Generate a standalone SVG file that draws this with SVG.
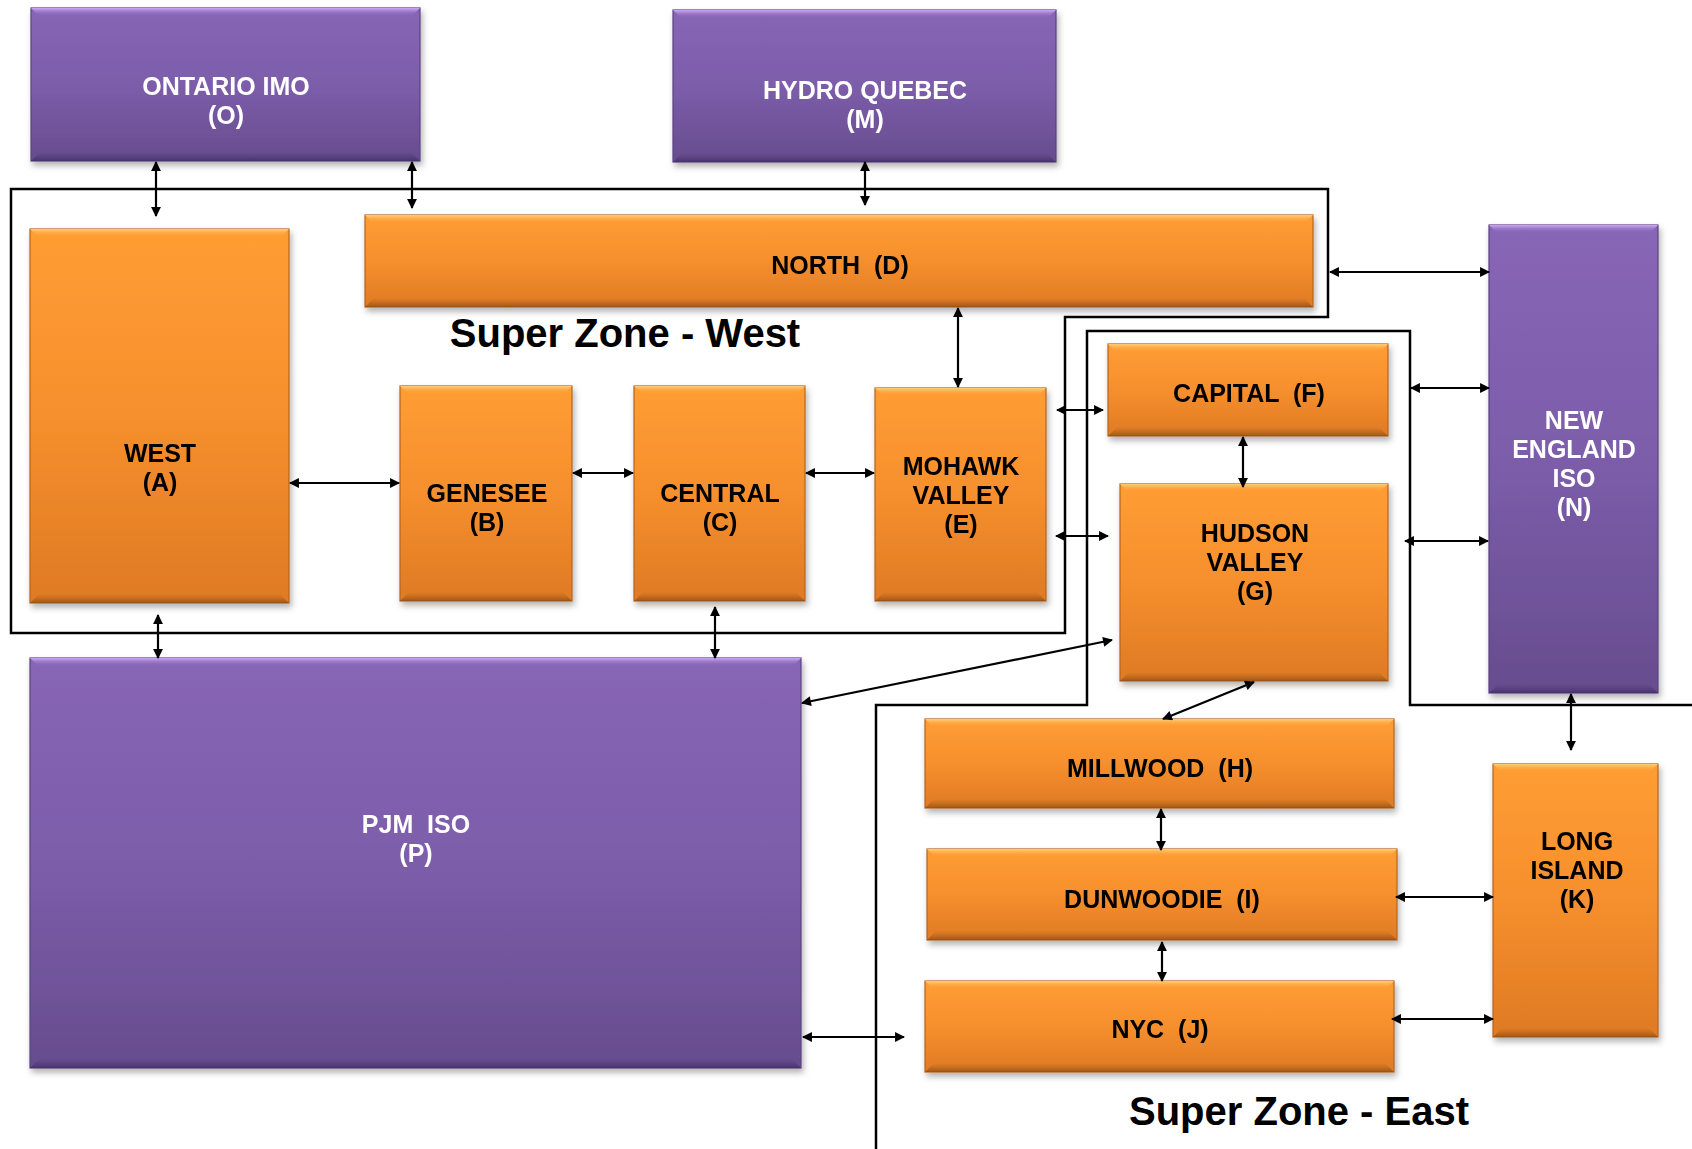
<svg xmlns="http://www.w3.org/2000/svg" width="1692" height="1149" viewBox="0 0 1692 1149">
<style>
.lbl{font-family:"Liberation Sans",Arial,Helvetica,sans-serif;font-weight:bold;font-size:25px;text-anchor:middle}
.or .lbl{fill:#000}
.pu .lbl{fill:#fff}
.or .body{fill:url(#gOr);stroke:#b5641f;stroke-width:1.2}
.pu .body{fill:url(#gPu);stroke:#5a4280;stroke-width:1.2}
.or .hi{fill:url(#hiO)}
.pu .hi{fill:url(#hiP)}
.or .lo{fill:url(#loO)}
.pu .lo{fill:url(#loP)}
.zone{fill:none;stroke:#000;stroke-width:2.5}
.title{font-family:"Liberation Sans",Arial,Helvetica,sans-serif;font-weight:bold;font-size:40px;text-anchor:middle;fill:#000}
.conn line{stroke:#000;stroke-width:2.2;marker-start:url(#ah);marker-end:url(#ah)}
</style>
<defs>
<linearGradient id="gOr" x1="0" y1="0" x2="0" y2="1">
<stop offset="0" stop-color="#ff9d33"/>
<stop offset="0.5" stop-color="#f68f2d"/>
<stop offset="1" stop-color="#df7a24"/>
</linearGradient>
<linearGradient id="gPu" x1="0" y1="0" x2="0" y2="1">
<stop offset="0" stop-color="#8866b6"/>
<stop offset="0.5" stop-color="#7c5daa"/>
<stop offset="1" stop-color="#674c8e"/>
</linearGradient>
<linearGradient id="hiO" x1="0" y1="0" x2="0" y2="1">
<stop offset="0" stop-color="#ffcf7a" stop-opacity="1"/>
<stop offset="1" stop-color="#ff9d33" stop-opacity="0"/>
</linearGradient>
<linearGradient id="hiP" x1="0" y1="0" x2="0" y2="1">
<stop offset="0" stop-color="#cfaaf8" stop-opacity="1"/>
<stop offset="1" stop-color="#8866b6" stop-opacity="0"/>
</linearGradient>
<linearGradient id="loO" x1="0" y1="0" x2="0" y2="1">
<stop offset="0" stop-color="#a85a1a" stop-opacity="0"/>
<stop offset="1" stop-color="#8a4a16" stop-opacity="0.75"/>
</linearGradient>
<linearGradient id="loP" x1="0" y1="0" x2="0" y2="1">
<stop offset="0" stop-color="#4a3470" stop-opacity="0"/>
<stop offset="1" stop-color="#3e2c60" stop-opacity="0.75"/>
</linearGradient>
<filter id="sh" x="-10%" y="-10%" width="120%" height="130%">
<feDropShadow dx="2" dy="4" stdDeviation="3" flood-color="#000" flood-opacity="0.3"/>
</filter>
<marker id="ah" viewBox="0 0 10 10" refX="9" refY="5" markerWidth="5" markerHeight="4.5" orient="auto-start-reverse" markerUnits="strokeWidth">
<path d="M0,0 L10,5 L0,10 z" fill="#000"/>
</marker>
</defs>
<rect width="1692" height="1149" fill="#fff"/>

<g id="zones">
<path class="zone" d="M11,189 H1328 V317 H1065 V633 H11 Z"/>
<path class="zone" d="M1692,705 H1410 V331 H1087 V705 H876 V1149"/>
<text class="title" x="625" y="347">Super Zone - West</text>
<text class="title" x="1299" y="1125">Super Zone - East</text>
</g>

<g id="node-O" class="pu" filter="url(#sh)">
<rect class="body" x="31" y="8" width="389" height="153"/>
<polygon class="hi" points="31,8 420,8 412,16 39,16"/>
<polygon class="lo" points="40,152 411,152 420,161 31,161"/>
<text class="lbl" x="226" y="95">ONTARIO IMO</text>
<text class="lbl" x="226" y="124">(O)</text>
</g>
<g id="node-M" class="pu" filter="url(#sh)">
<rect class="body" x="673" y="10" width="383" height="152"/>
<polygon class="hi" points="673,10 1056,10 1048,18 681,18"/>
<polygon class="lo" points="682,153 1047,153 1056,162 673,162"/>
<text class="lbl" x="865" y="99">HYDRO QUEBEC</text>
<text class="lbl" x="865" y="128">(M)</text>
</g>
<g id="node-D" class="or" filter="url(#sh)">
<rect class="body" x="365" y="215" width="948" height="92"/>
<polygon class="hi" points="365,215 1313,215 1305,223 373,223"/>
<polygon class="lo" points="374,298 1304,298 1313,307 365,307"/>
<text class="lbl" x="840" y="274" xml:space="preserve">NORTH  (D)</text>
</g>
<g id="node-A" class="or" filter="url(#sh)">
<rect class="body" x="30" y="229" width="259" height="374"/>
<polygon class="hi" points="30,229 289,229 281,237 38,237"/>
<polygon class="lo" points="39,594 280,594 289,603 30,603"/>
<text class="lbl" x="160" y="462">WEST</text>
<text class="lbl" x="160" y="491">(A)</text>
</g>
<g id="node-B" class="or" filter="url(#sh)">
<rect class="body" x="400" y="386" width="172" height="215"/>
<polygon class="hi" points="400,386 572,386 564,394 408,394"/>
<polygon class="lo" points="409,592 563,592 572,601 400,601"/>
<text class="lbl" x="487" y="502">GENESEE</text>
<text class="lbl" x="487" y="531">(B)</text>
</g>
<g id="node-C" class="or" filter="url(#sh)">
<rect class="body" x="634" y="386" width="171" height="215"/>
<polygon class="hi" points="634,386 805,386 797,394 642,394"/>
<polygon class="lo" points="643,592 796,592 805,601 634,601"/>
<text class="lbl" x="720" y="502">CENTRAL</text>
<text class="lbl" x="720" y="531">(C)</text>
</g>
<g id="node-E" class="or" filter="url(#sh)">
<rect class="body" x="875" y="388" width="171" height="213"/>
<polygon class="hi" points="875,388 1046,388 1038,396 883,396"/>
<polygon class="lo" points="884,592 1037,592 1046,601 875,601"/>
<text class="lbl" x="961" y="475">MOHAWK</text>
<text class="lbl" x="961" y="504">VALLEY</text>
<text class="lbl" x="961" y="533">(E)</text>
</g>
<g id="node-F" class="or" filter="url(#sh)">
<rect class="body" x="1108" y="344" width="280" height="92"/>
<polygon class="hi" points="1108,344 1388,344 1380,352 1116,352"/>
<polygon class="lo" points="1117,427 1379,427 1388,436 1108,436"/>
<text class="lbl" x="1249" y="402" xml:space="preserve">CAPITAL  (F)</text>
</g>
<g id="node-G" class="or" filter="url(#sh)">
<rect class="body" x="1120" y="484" width="268" height="197"/>
<polygon class="hi" points="1120,484 1388,484 1380,492 1128,492"/>
<polygon class="lo" points="1129,672 1379,672 1388,681 1120,681"/>
<text class="lbl" x="1255" y="542">HUDSON</text>
<text class="lbl" x="1255" y="571">VALLEY</text>
<text class="lbl" x="1255" y="600">(G)</text>
</g>
<g id="node-N" class="pu" filter="url(#sh)">
<rect class="body" x="1489" y="225" width="169" height="468"/>
<polygon class="hi" points="1489,225 1658,225 1650,233 1497,233"/>
<polygon class="lo" points="1498,684 1649,684 1658,693 1489,693"/>
<text class="lbl" x="1574" y="429">NEW</text>
<text class="lbl" x="1574" y="458">ENGLAND</text>
<text class="lbl" x="1574" y="487">ISO</text>
<text class="lbl" x="1574" y="516">(N)</text>
</g>
<g id="node-P" class="pu" filter="url(#sh)">
<rect class="body" x="30" y="658" width="771" height="410"/>
<polygon class="hi" points="30,658 801,658 793,666 38,666"/>
<polygon class="lo" points="39,1059 792,1059 801,1068 30,1068"/>
<text class="lbl" x="416" y="833" xml:space="preserve">PJM  ISO</text>
<text class="lbl" x="416" y="862">(P)</text>
</g>
<g id="node-H" class="or" filter="url(#sh)">
<rect class="body" x="925" y="719" width="469" height="89"/>
<polygon class="hi" points="925,719 1394,719 1386,727 933,727"/>
<polygon class="lo" points="934,799 1385,799 1394,808 925,808"/>
<text class="lbl" x="1160" y="777" xml:space="preserve">MILLWOOD  (H)</text>
</g>
<g id="node-I" class="or" filter="url(#sh)">
<rect class="body" x="927" y="849" width="470" height="91"/>
<polygon class="hi" points="927,849 1397,849 1389,857 935,857"/>
<polygon class="lo" points="936,931 1388,931 1397,940 927,940"/>
<text class="lbl" x="1162" y="908" xml:space="preserve">DUNWOODIE  (I)</text>
</g>
<g id="node-J" class="or" filter="url(#sh)">
<rect class="body" x="925" y="981" width="469" height="91"/>
<polygon class="hi" points="925,981 1394,981 1386,989 933,989"/>
<polygon class="lo" points="934,1063 1385,1063 1394,1072 925,1072"/>
<text class="lbl" x="1160" y="1038" xml:space="preserve">NYC  (J)</text>
</g>
<g id="node-K" class="or" filter="url(#sh)">
<rect class="body" x="1493" y="764" width="165" height="273"/>
<polygon class="hi" points="1493,764 1658,764 1650,772 1501,772"/>
<polygon class="lo" points="1502,1028 1649,1028 1658,1037 1493,1037"/>
<text class="lbl" x="1577" y="850">LONG</text>
<text class="lbl" x="1577" y="879">ISLAND</text>
<text class="lbl" x="1577" y="908">(K)</text>
</g>

<g id="connectors" class="conn">
<line x1="156" y1="162" x2="156" y2="216"/>
<line x1="412" y1="162" x2="412" y2="208"/>
<line x1="865" y1="162" x2="865" y2="205"/>
<line x1="1330" y1="272" x2="1489" y2="272"/>
<line x1="958" y1="308" x2="958" y2="387"/>
<line x1="290" y1="483" x2="399" y2="483"/>
<line x1="573" y1="473" x2="633" y2="473"/>
<line x1="806" y1="473" x2="874" y2="473"/>
<line x1="1057" y1="410" x2="1103" y2="410"/>
<line x1="1056" y1="536" x2="1108" y2="536"/>
<line x1="1411" y1="388" x2="1489" y2="388"/>
<line x1="1405" y1="541" x2="1488" y2="541"/>
<line x1="1243" y1="437" x2="1243" y2="487"/>
<line x1="802" y1="703" x2="1112" y2="640"/>
<line x1="1254" y1="682" x2="1163" y2="719"/>
<line x1="1161" y1="809" x2="1161" y2="850"/>
<line x1="1162" y1="942" x2="1162" y2="981"/>
<line x1="1396" y1="897" x2="1493" y2="897"/>
<line x1="1392" y1="1019" x2="1493" y2="1019"/>
<line x1="1571" y1="694" x2="1571" y2="750"/>
<line x1="803" y1="1037" x2="904" y2="1037"/>
<line x1="158" y1="615" x2="158" y2="658"/>
<line x1="715" y1="607" x2="715" y2="658"/>
</g>
</svg>
